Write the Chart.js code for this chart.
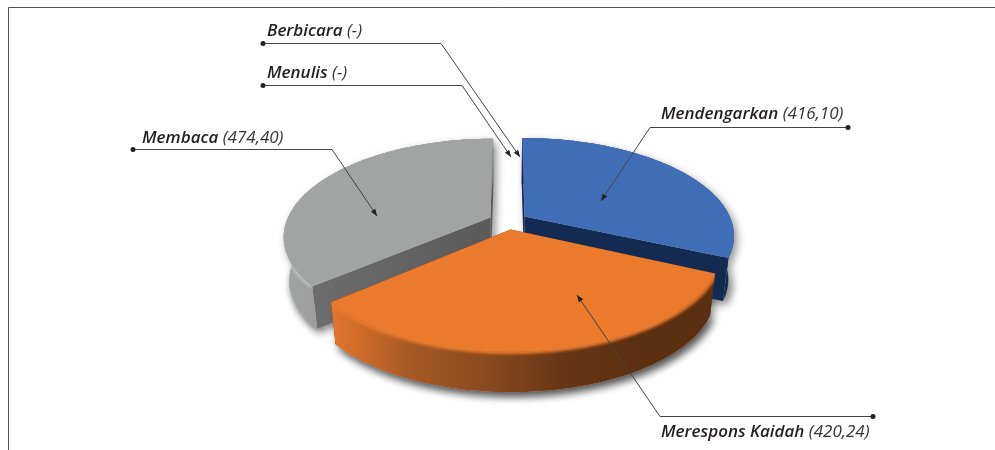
<!DOCTYPE html>
<html>
<head>
<meta charset="utf-8">
<title>Keterampilan</title>
<style>
    html, body { margin: 0; padding: 0; background: #fff; overflow: hidden; }
    #wrap { width: 995px; height: 450px; }
</style>
<script src="https://cdn.jsdelivr.net/npm/chart.js@4/dist/chart.umd.min.js"></script>
</head>
<body>
<div id="wrap"><canvas id="chart" width="995" height="450"></canvas></div>
<script>
const categories = ["Mendengarkan", "Merespons Kaidah", "Membaca", "Menulis", "Berbicara"];
const seriesValues = [416.10, 420.24, 474.40, null, null];

// slice styles, same order as categories
const topColors = ["#406eb6", "#ec7a2d", "#a2a3a3", "#a2a3a3", "#a2a3a3"];
const faceStops = [
    ["#132b52", "#132b52"],
    ["#5c2f10", "#5c2f10"],
    ["#707070", "#5a5a5a"],
    ["#5c5c5c", "#5c5c5c"],
    ["#5c5c5c", "#5c5c5c"]
];
const wallStops = [
    ["#132b52", "#132b52"],
    ["#e5762c", "#a95a24", "#8a4a20", "#683614", "#5c2f10", "#5c2f10"],
    ["#a3a4a4", "#8f8f8f", "#7d7d7d"],
    ["#999999"],
    ["#999999"]
];
const rimColors = ["#5f8bd0", "#f59b5c", "#bdbebe", "#bdbebe", "#bdbebe"];
const paintOrder = [2, 0, 1];
const widthScale = [1, 0.98, 0.985, 1, 1];
const shiftX = [-1, -2, -3, 0, 0];

// where each label and its leader sit on the page
const labelLayout = [
    { text: [661, 119], dot: [848, 127], bend: [650, 127], tip: [601, 201] },
    { text: [661, 437], dot: [873, 416], bend: [660, 416], tip: [577, 295] },
    { text: [142, 143], dot: [133, 149], bend: [332, 149], tip: [377, 216] },
    { text: [267, 78], dot: [263, 85], bend: [462, 85], tip: [511, 157] },
    { text: [267, 36], dot: [263, 43], bend: [441, 43], tip: [520, 157] }
];

const view = { cx: 510, cy: 221, rx: 207, ry: 95, persp: 0.19, explode: 0.09, depth: 44, shrink: 0.975 };

const project = (index, wx, wy, bottom) => {
    const s = 1 / (1 - view.persp * wy);
    const b = bottom ? view.shrink : 1;
    return [
        view.cx + shiftX[index] + view.rx * widthScale[index] * wx * s * b,
        view.cy + view.ry * wy * s * b + (bottom ? view.depth : 0)
    ];
};

const rimPoints = (arc, index, bottom) => {
    const { startAngle, endAngle } = arc.getProps(["startAngle", "endAngle"], true);
    const mid = (startAngle + endAngle) / 2;
    const ox = view.explode * Math.cos(mid);
    const oy = view.explode * Math.sin(mid);
    const steps = 80;
    const pts = [];
    for (let i = 0; i <= steps; i++) {
        const a = startAngle + (endAngle - startAngle) * i / steps;
        pts.push(project(index, ox + Math.cos(a), oy + Math.sin(a), bottom));
    }
    return { pts, apex: project(index, ox, oy, bottom) };
};

const tracePath = (ctx, pts) => {
    ctx.beginPath();
    pts.forEach((p, i) => (i ? ctx.lineTo(p[0], p[1]) : ctx.moveTo(p[0], p[1])));
    ctx.closePath();
};

const sideFill = (ctx, stops, pts) => {
    const xs = pts.map((p) => p[0]);
    const gradient = ctx.createLinearGradient(Math.min(...xs), 0, Math.max(...xs), 0);
    stops.forEach((c, i) => gradient.addColorStop(stops.length > 1 ? i / (stops.length - 1) : 0, c));
    return gradient;
};

const drawSlice = (ctx, arc, index) => {
    const top = rimPoints(arc, index, false);
    const low = rimPoints(arc, index, true);
    const last = top.pts.length - 1;

    // flat cut faces
    ctx.fillStyle = sideFill(ctx, faceStops[index], top.pts);
    tracePath(ctx, [top.apex, top.pts[0], low.pts[0], low.apex]);
    ctx.fill();
    tracePath(ctx, [top.apex, top.pts[last], low.pts[last], low.apex]);
    ctx.fill();

    // outer wall
    const wall = top.pts.concat(low.pts.slice().reverse());
    ctx.fillStyle = sideFill(ctx, wallStops[index], top.pts);
    tracePath(ctx, wall);
    ctx.fill();

    // soft bevel along the upper rim
    ctx.save();
    tracePath(ctx, wall);
    ctx.clip();
    ctx.filter = "blur(1.5px)";
    ctx.strokeStyle = index === 1 ? topColors[index] : rimColors[index];
    ctx.lineWidth = 5;
    ctx.beginPath();
    top.pts.forEach((p, i) => (i ? ctx.lineTo(p[0], p[1]) : ctx.moveTo(p[0], p[1])));
    ctx.stroke();
    ctx.restore();

    // top
    ctx.fillStyle = topColors[index];
    tracePath(ctx, [top.apex].concat(top.pts));
    ctx.fill();
};

const tiltedPie = {
    id: "tiltedPie",
    beforeDatasetsDraw(chart) {
        const ctx = chart.ctx;
        const arcs = chart.getDatasetMeta(0).data;

        // ground shadow goes first so it never lands on another slice
        ctx.save();
        ctx.shadowColor = "rgba(0,0,0,0.45)";
        ctx.shadowBlur = 9;
        ctx.shadowOffsetX = 3;
        ctx.shadowOffsetY = 4;
        ctx.fillStyle = "#bbb";
        paintOrder.forEach((i) => {
            const low = rimPoints(arcs[i], i, true);
            const top = rimPoints(arcs[i], i, false);
            tracePath(ctx, top.pts.concat(low.pts.slice().reverse()));
            ctx.fill();
            tracePath(ctx, [low.apex].concat(low.pts));
            ctx.fill();
        });
        ctx.restore();

        paintOrder.forEach((i) => drawSlice(ctx, arcs[i], i));
        return false;
    }
};

const formatValue = (value) => (value === null ? "-" : value.toFixed(2).replace(".", ","));

const drawLeader = (ctx, item) => {
    ctx.strokeStyle = "#444";
    ctx.lineWidth = 1;
    ctx.beginPath();
    ctx.moveTo(item.dot[0], item.dot[1] + 0.5);
    ctx.lineTo(item.bend[0], item.bend[1] + 0.5);
    ctx.lineTo(item.tip[0], item.tip[1]);
    ctx.stroke();

    ctx.fillStyle = "#222";
    ctx.beginPath();
    ctx.arc(item.dot[0], item.dot[1] + 0.5, 2.5, 0, Math.PI * 2);
    ctx.fill();

    const angle = Math.atan2(item.tip[1] - item.bend[1], item.tip[0] - item.bend[0]);
    ctx.save();
    ctx.translate(item.tip[0], item.tip[1]);
    ctx.rotate(angle);
    ctx.beginPath();
    ctx.moveTo(0, 0);
    ctx.lineTo(-7, -2.6);
    ctx.lineTo(-7, 2.6);
    ctx.closePath();
    ctx.fill();
    ctx.restore();
};

const drawLabel = (ctx, index, item) => {
    const name = categories[index];
    const value = " (" + formatValue(seriesValues[index]) + ")";
    ctx.textBaseline = "alphabetic";
    ctx.textAlign = "left";
    ctx.fillStyle = "#231f20";
    ctx.font = "italic 600 17px 'Open Sans'";
    ctx.fillText(name, item.text[0], item.text[1]);
    const width = ctx.measureText(name).width;
    ctx.font = "italic 400 17px 'Open Sans'";
    ctx.fillStyle = "#333";
    ctx.fillText(value, item.text[0] + width, item.text[1]);
};

const annotations = {
    id: "annotations",
    afterDraw(chart) {
        const ctx = chart.ctx;
        ctx.save();
        // frame of the figure
        ctx.strokeStyle = "#555";
        ctx.lineWidth = 1;
        ctx.beginPath();
        ctx.moveTo(8.5, 450);
        ctx.lineTo(8.5, 7.5);
        ctx.lineTo(995, 7.5);
        ctx.stroke();

        labelLayout.forEach((item, i) => {
            drawLeader(ctx, item);
            drawLabel(ctx, i, item);
        });
        ctx.restore();
    }
};

new Chart(document.getElementById("chart"), {
    type: "pie",
    data: {
        labels: categories,
        datasets: [{
            data: seriesValues,
            backgroundColor: topColors,
            borderWidth: 0
        }]
    },
    plugins: [tiltedPie, annotations],
    options: {
        responsive: false,
        animation: false,
        plugins: {
            legend: { display: false },
            tooltip: { enabled: false }
        }
    }
});
</script>
</body>
</html>
